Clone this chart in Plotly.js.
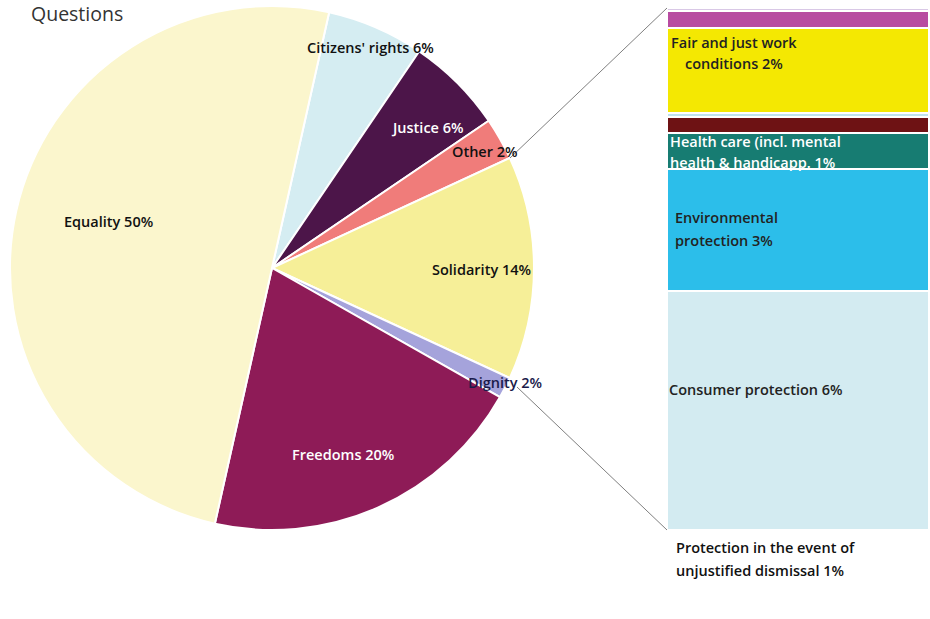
<!DOCTYPE html>
<html><head><meta charset="utf-8">
<script src="https://cdn.plot.ly/plotly-3.0.1.min.js"></script>
<style>html,body{margin:0;padding:0;background:#fff}#chart{width:930px;height:619px}</style>
</head><body><div id="chart"></div>
<script>
// Pie data (share of questions, %)
const pieLabels = ["Citizens' rights", "Justice", "Other", "Solidarity", "Dignity", "Freedoms", "Equality"];
const pieValues = [6, 6, 2.6, 13.8, 1.3, 20.3, 50];
const pieTexts = ["Citizens' rights 6%", "Justice 6%", "Other 2%", "Solidarity 14%", "Dignity 2%", "Freedoms 20%", "Equality 50%"];
const pieColors = ["#D5EDF2", "#4C1549", "#F07C7A", "#F6EF98", "#A5A3DB", "#8E1B57", "#FBF6CD"];

// Breakdown of "Other" (bar, bottom to top)
const barLabels = ["Consumer protection", "Environmental protection", "Health care", "Health care (other)", "Misc. a", "Fair and just work conditions", "Misc. b", "Misc. c"];
const barValues = [6.0, 3.05, 0.9, 0.4, 0.1, 2.15, 0.42, 0.07];
const barColors = ["#D3EBF1", "#2CBEEA", "#177C72", "#6E1214", "#BFE3EE", "#F4E802", "#B84CA1", "#D9C8E6"];

const W = 930, H = 619;
const px = x => x / W, py = y => 1 - y / H;
const FONT = "Open Sans, sans-serif";

const traces = [{
  type: 'pie', labels: pieLabels, values: pieValues, sort: false, direction: 'clockwise',
  rotation: 12.6, textinfo: 'none', hoverinfo: 'label+percent',
  marker: {colors: pieColors, line: {color: '#ffffff', width: 2}},
  domain: {x: [px(10), px(534)], y: [py(530), py(6)]}
}];
barValues.forEach((v, i) => traces.push({
  type: 'bar', x: ['Other'], y: [v], name: barLabels[i], xaxis: 'x', yaxis: 'y',
  marker: {color: barColors[i], line: {color: '#ffffff', width: 2}}, width: 1, hoverinfo: 'name+y'
}));

function ann(text, x, y, color, anchor, size) {
  return {text: text, x: px(x), y: py(y), xref: 'paper', yref: 'paper', showarrow: false,
    xanchor: anchor || 'center', yanchor: 'middle',
    font: {family: FONT, size: size || 14.5, color: color, weight: 600}};
}
const annotations = [
  {text: 'Questions', x: px(29), y: py(13), xref: 'paper', yref: 'paper', showarrow: false,
   xanchor: 'left', yanchor: 'middle', font: {family: FONT, size: 19.5, color: '#333333'}},
  ann(pieTexts[6], 108, 221, '#111111'),
  ann(pieTexts[0], 370, 48, '#111111'),
  ann(pieTexts[1], 427, 127, '#ffffff'),
  ann(pieTexts[2], 485, 152, '#111111'),
  ann(pieTexts[3], 481, 270, '#111111'),
  ann(pieTexts[4], 505, 382, '#1a1a4a'),
  ann(pieTexts[5], 343, 454, '#ffffff'),
  ann('Fair and just work', 669, 42, '#222222', 'left'),
  ann('conditions 2%', 683, 64, '#222222', 'left'),
  ann('Health care (incl. mental', 668, 141, '#ffffff', 'left'),
  ann('health &amp; handicapp. 1%', 668, 163, '#ffffff', 'left'),
  ann('Environmental', 673, 217, '#222222', 'left'),
  ann('protection 3%', 673, 240, '#222222', 'left'),
  ann('Consumer protection 6%', 667, 389, '#222222', 'left'),
  ann('Protection in the event of', 674, 547, '#111111', 'left'),
  ann('unjustified dismissal 1%', 674, 570, '#111111', 'left')
];

const shapes = [
  {type: 'line', xref: 'paper', yref: 'paper', x0: px(510), y0: py(158), x1: px(667), y1: py(8), line: {color: '#7f7f7f', width: 1}},
  {type: 'line', xref: 'paper', yref: 'paper', x0: px(517), y0: py(387), x1: px(667), y1: py(530), line: {color: '#7f7f7f', width: 1}}
];

const layout = {
  width: W, height: H, margin: {l: 0, r: 0, t: 0, b: 0},
  paper_bgcolor: '#ffffff', plot_bgcolor: '#ffffff', showlegend: false, barmode: 'stack', bargap: 0,
  xaxis: {domain: [px(667), px(929)], range: [-0.5, 0.5], visible: false, fixedrange: true},
  yaxis: {domain: [py(530), py(8)], range: [0, barValues.reduce((a, b) => a + b, 0)], visible: false, fixedrange: true},
  annotations: annotations, shapes: shapes
};
Plotly.newPlot('chart', traces, layout, {displayModeBar: false, staticPlot: true});
</script></body></html>
